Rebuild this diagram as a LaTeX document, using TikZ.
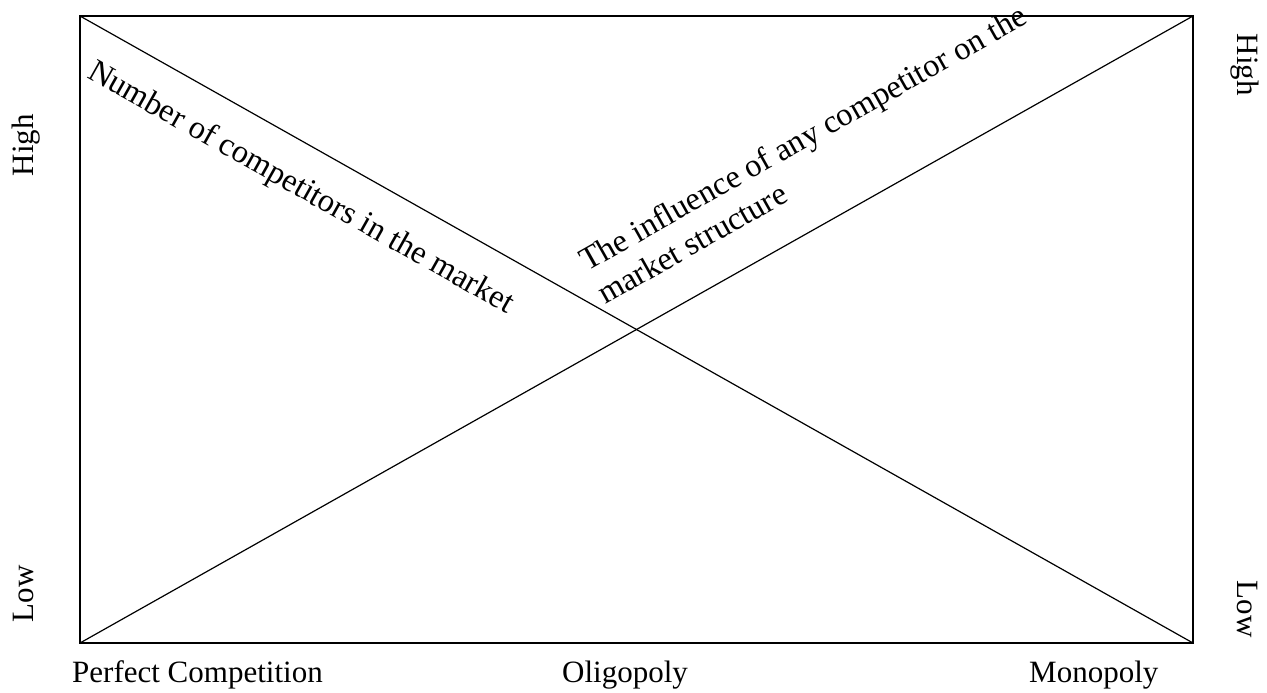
\documentclass[tikz,border=0pt]{standalone}
\usepackage{fontspec}
\setmainfont{Liberation Serif}
\begin{document}
\begin{tikzpicture}[x=1pt,y=-1pt,
  lbl/.style={inner sep=0pt,font=\fontsize{31}{36}\selectfont},
  diaglbl/.style={inner sep=0pt,font=\fontsize{32.5}{37}\selectfont},
  frame/.style={line width=2.6pt,line join=miter},
  diag/.style={line width=1.2pt}]
\useasboundingbox (0,0) rectangle (1267,693);
\coordinate (tl) at (80,16);
\coordinate (tr) at (1193,16);
\coordinate (bl) at (80,643);
\coordinate (br) at (1193,643);
\draw[diag] (tl) -- (br);
\draw[diag] (bl) -- (tr);
\draw[frame] (tl) -- (tr) -- (br) -- (bl) -- cycle;
% axis labels
\node[lbl,rotate=90,anchor=base] (hl) at (33,145) {High};
\node[lbl,rotate=90,anchor=base] (ll) at (33,594) {Low};
\node[lbl,rotate=-90,anchor=base] (hr) at (1237,65) {High};
\node[lbl,rotate=-90,anchor=base] (lr) at (1237,609) {Low};
\node[lbl,anchor=base west] (pc) at (72,682) {Perfect Competition};
\node[lbl,anchor=base west] (ol) at (562,682) {Oligopoly};
\node[lbl,anchor=base west] (mo) at (1029,682) {Monopoly};
% diagonal labels
\node[diaglbl,rotate=-29.4,anchor=base west] (nc) at (86,77) {Number of competitors in the market};
\node[diaglbl,rotate=29.4,anchor=base west] (inf1) at (587,272) {The influence of any competitor on the};
\node[diaglbl,rotate=29.4,anchor=base west] (inf2) at (605,305) {market structure};
\end{tikzpicture}
\end{document}
